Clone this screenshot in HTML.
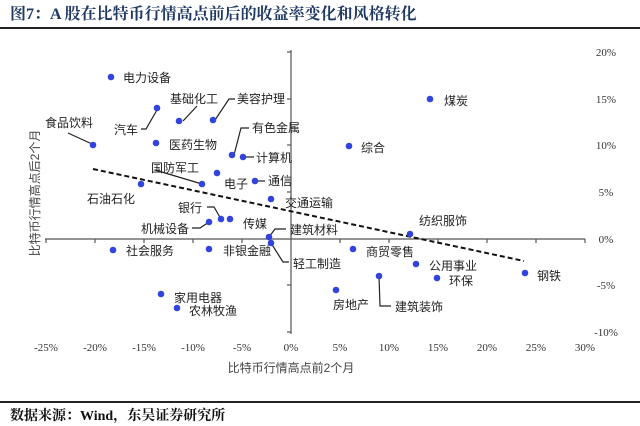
<!DOCTYPE html>
<html><head><meta charset="utf-8"><style>
body{margin:0;background:#fff;width:640px;height:426px;overflow:hidden;font-family:"Liberation Serif","Noto Serif CJK SC",serif}
</style></head><body>
<svg width="640" height="426" xmlns="http://www.w3.org/2000/svg" style="position:absolute;left:0;top:0">
<text x="10" y="19" font-size="16" font-weight="bold" fill="#1f3864" font-family="Liberation Serif,Noto Serif CJK SC,serif">图7：A 股在比特币行情高点前后的收益率变化和风格转化</text>
<line x1="0" y1="28" x2="640" y2="28" stroke="#222" stroke-width="2"/>
<line x1="0" y1="402" x2="640" y2="402" stroke="#222" stroke-width="2"/>
<text x="10" y="420" font-size="14" font-weight="bold" fill="#111" font-family="Liberation Serif,Noto Serif CJK SC,serif">数据来源：Wind，东吴证券研究所</text>
<g stroke="#555" stroke-width="1.2">
<line x1="291" y1="50" x2="291" y2="334"/>
<line x1="45" y1="239" x2="585" y2="239"/>
<line x1="287" y1="52" x2="291" y2="52"/><line x1="287" y1="99" x2="291" y2="99"/><line x1="287" y1="145" x2="291" y2="145"/><line x1="287" y1="192" x2="291" y2="192"/><line x1="287" y1="285" x2="291" y2="285"/><line x1="287" y1="332" x2="291" y2="332"/>
<line x1="46" y1="239" x2="46" y2="243"/><line x1="95" y1="239" x2="95" y2="243"/><line x1="144" y1="239" x2="144" y2="243"/><line x1="193" y1="239" x2="193" y2="243"/><line x1="242" y1="239" x2="242" y2="243"/><line x1="340" y1="239" x2="340" y2="243"/><line x1="389" y1="239" x2="389" y2="243"/><line x1="438" y1="239" x2="438" y2="243"/><line x1="487" y1="239" x2="487" y2="243"/><line x1="536" y1="239" x2="536" y2="243"/><line x1="585" y1="239" x2="585" y2="243"/>
</g>
<g font-size="11" fill="#333" text-anchor="middle">
<text x="46" y="351">-25%</text><text x="95" y="351">-20%</text><text x="144" y="351">-15%</text><text x="193" y="351">-10%</text><text x="242" y="351">-5%</text><text x="291" y="351">0%</text><text x="340" y="351">5%</text><text x="389" y="351">10%</text><text x="438" y="351">15%</text><text x="487" y="351">20%</text><text x="536" y="351">25%</text><text x="585" y="351">30%</text>
<text x="606" y="56">20%</text><text x="606" y="103">15%</text><text x="606" y="149">10%</text><text x="606" y="196">5%</text><text x="606" y="243">0%</text><text x="606" y="289">-5%</text><text x="606" y="336">-10%</text>
</g>
<g font-family="Liberation Sans,Noto Sans CJK SC,sans-serif" fill="#444" font-size="12">
<text x="291" y="372" text-anchor="middle">比特币行情高点前2个月</text>
<text transform="translate(39,193) rotate(-90)" text-anchor="middle">比特币行情高点后2个月</text>
</g>
<line x1="93" y1="169" x2="524" y2="261" stroke="#111" stroke-width="2" stroke-dasharray="5,3"/>
<g stroke="#222" stroke-width="1.2" fill="none">
<polyline points="141,129 146,129 157,110"/>
<polyline points="183,121 197,106"/>
<polyline points="215,120 229,99 235,99"/>
<polyline points="68,133 92,144"/>
<polyline points="234,155 241,128 249,128"/>
<polyline points="243,157 254,157"/>
<polyline points="155,170 202,184"/>
<polyline points="255,181 265,181"/>
<polyline points="207,207 214,207 221,219"/>
<polyline points="192,228 200,228 209,222"/>
<polyline points="269,237 275,229 286,229"/>
<polyline points="271,243 283,262 289,262"/>
<polyline points="379,276 380,306 391,306"/>
</g>
<g fill="#3344dd">
<circle cx="111" cy="77" r="3.3"/><circle cx="157" cy="108" r="3.3"/><circle cx="179" cy="121" r="3.3"/><circle cx="213" cy="120" r="3.3"/><circle cx="93" cy="145" r="3.3"/><circle cx="156" cy="143" r="3.3"/><circle cx="232" cy="155" r="3.3"/><circle cx="243" cy="157" r="3.3"/><circle cx="430" cy="99" r="3.3"/><circle cx="349" cy="146" r="3.3"/><circle cx="202" cy="184" r="3.3"/><circle cx="217" cy="173" r="3.3"/><circle cx="255" cy="181" r="3.3"/><circle cx="141" cy="184" r="3.3"/><circle cx="271" cy="199" r="3.3"/><circle cx="221" cy="219" r="3.3"/><circle cx="230" cy="219" r="3.3"/><circle cx="209" cy="222" r="3.3"/><circle cx="269" cy="237" r="3.3"/><circle cx="271" cy="243" r="3.3"/><circle cx="113" cy="250" r="3.3"/><circle cx="209" cy="249" r="3.3"/><circle cx="410" cy="234" r="3.3"/><circle cx="353" cy="249" r="3.3"/><circle cx="416" cy="264" r="3.3"/><circle cx="437" cy="278" r="3.3"/><circle cx="525" cy="273" r="3.3"/><circle cx="379" cy="276" r="3.3"/><circle cx="336" cy="290" r="3.3"/><circle cx="161" cy="294" r="3.3"/><circle cx="177" cy="308" r="3.3"/>
</g>
<g font-family="Liberation Sans,Noto Sans CJK SC,sans-serif" fill="#222" font-size="12">
<text x="123" y="82">电力设备</text><text x="114" y="134">汽车</text><text x="170" y="103">基础化工</text><text x="237" y="103">美容护理</text><text x="45" y="127">食品饮料</text><text x="169" y="149">医药生物</text><text x="252" y="132">有色金属</text><text x="256" y="162">计算机</text><text x="444" y="105">煤炭</text><text x="361" y="152">综合</text><text x="151" y="172">国防军工</text><text x="224" y="188">电子</text><text x="268" y="185">通信</text><text x="87" y="203">石油石化</text><text x="285" y="207">交通运输</text><text x="178" y="212">银行</text><text x="243" y="228">传媒</text><text x="141" y="233">机械设备</text><text x="290" y="234">建筑材料</text><text x="293" y="268">轻工制造</text><text x="126" y="255">社会服务</text><text x="223" y="255">非银金融</text><text x="419" y="225">纺织服饰</text><text x="366" y="256">商贸零售</text><text x="429" y="270">公用事业</text><text x="449" y="285">环保</text><text x="537" y="280">钢铁</text><text x="395" y="311">建筑装饰</text><text x="333" y="309">房地产</text><text x="174" y="302">家用电器</text><text x="189" y="315">农林牧渔</text>
</g>
</svg>
</body></html>
